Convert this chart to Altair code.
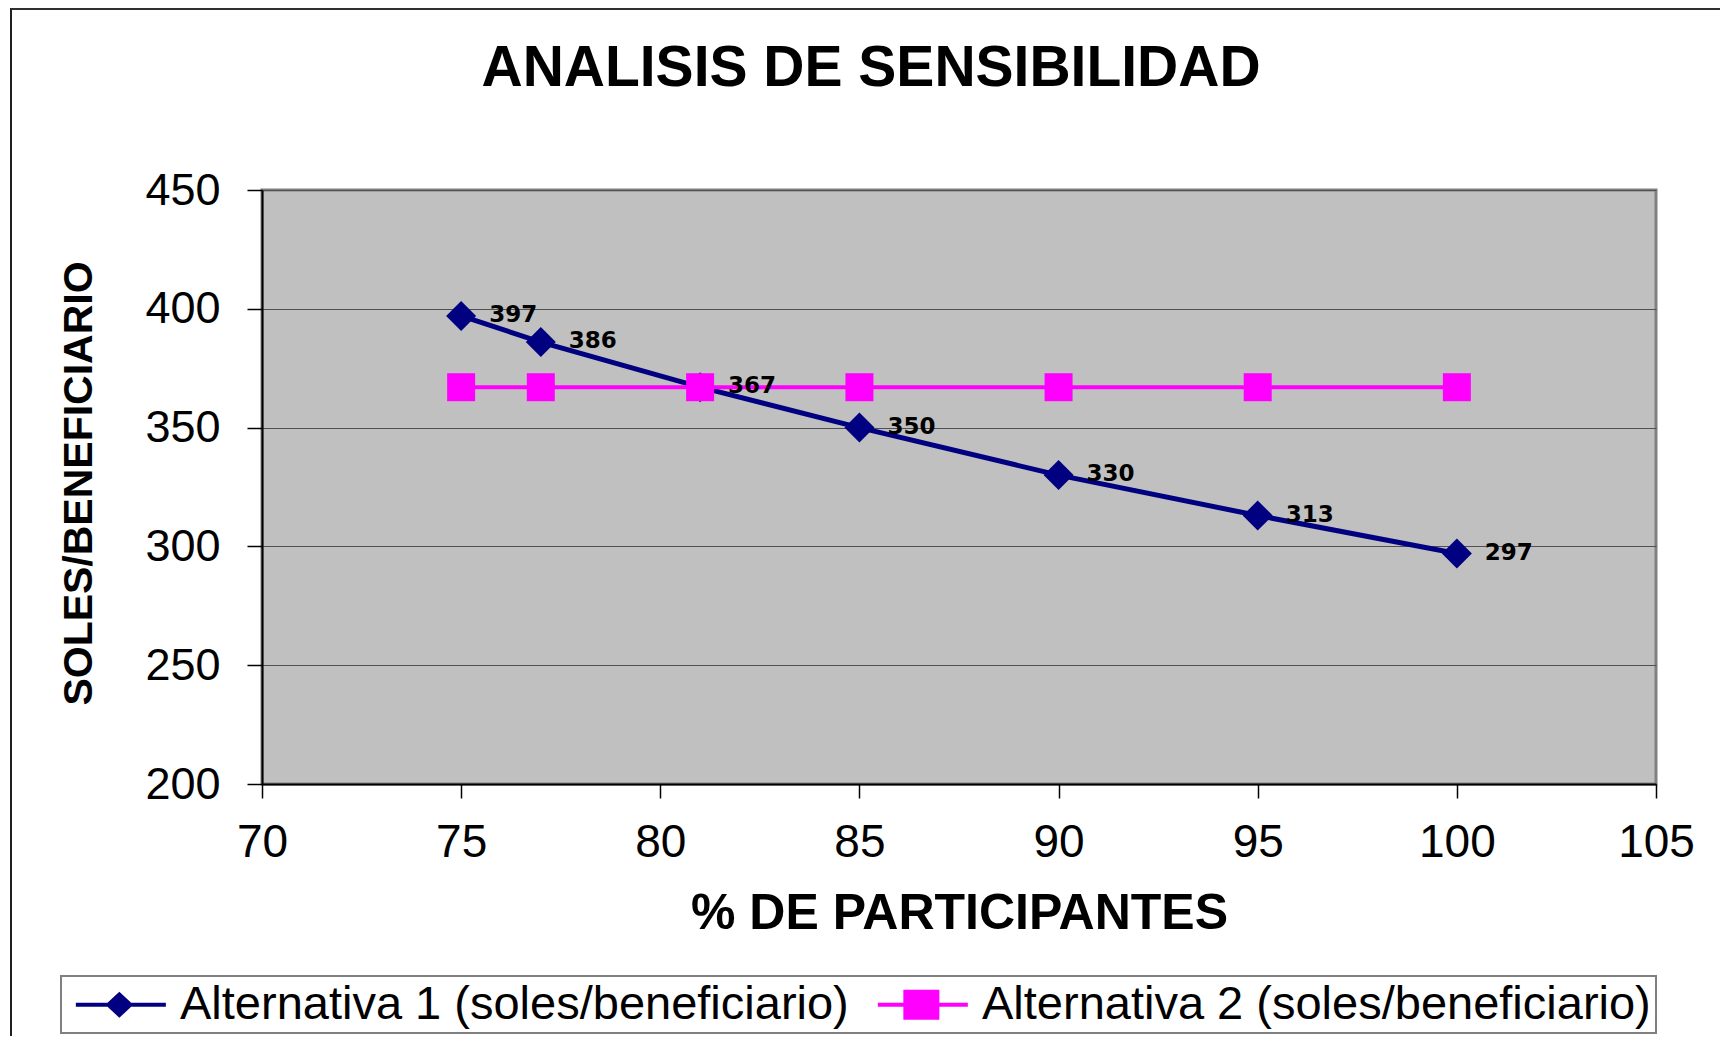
import altair as alt
import pandas as pd

# ---- data ----
x_vals = [75, 77, 81, 85, 90, 95, 100]
alt1_vals = [397, 386, 367, 350, 330, 313, 297]
alt2_vals = [367, 367, 367, 367, 367, 367, 367]
series_names = ["Alternativa 1 (soles/beneficiario)", "Alternativa 2 (soles/beneficiario)"]
series_colors = ["#000080", "#FF00FF"]
x_ticks = [70, 75, 80, 85, 90, 95, 100, 105]
y_ticks = [200, 250, 300, 350, 400, 450]

rows = []
for x, v in zip(x_vals, alt1_vals):
    rows.append({"pct": x, "val": v, "serie": series_names[0], "label": str(v)})
for x, v in zip(x_vals, alt2_vals):
    rows.append({"pct": x, "val": v, "serie": series_names[1], "label": ""})
df = pd.DataFrame(rows)

FONT = "Liberation Sans"

x_enc = alt.X(
    "pct:Q",
    scale=alt.Scale(domain=[70, 105], nice=False, zero=False),
    axis=alt.Axis(
        values=x_ticks, grid=False, title="% DE PARTICIPANTES",
        labelFont=FONT, labelFontSize=46, labelColor="black", labelPadding=22,
        labelFlush=False, labelOverlap=False,
        tickSize=14, tickColor="black", tickWidth=1.5,
        domainColor="black", domainWidth=2,
        titleFont=FONT, titleFontSize=50, titleFontWeight="bold", titleColor="black",
        titleY=144, titleBaseline="alphabetic",
    ),
)
y_enc = alt.Y(
    "val:Q",
    scale=alt.Scale(domain=[200, 450], nice=False, zero=False),
    axis=alt.Axis(
        values=y_ticks, grid=True, gridColor="#505050", gridWidth=1,
        title="SOLES/BENEFICIARIO",
        labelFont=FONT, labelFontSize=45, labelColor="black", labelPadding=27,
        labelFlush=False, labelOverlap=False,
        tickSize=15, tickColor="black", tickWidth=1.5,
        domainColor="black", domainWidth=2,
        titleFont=FONT, titleFontSize=41, titleFontWeight="bold", titleColor="black",
        titleX=-183, titleY=293, titleAngle=270, titleAlign="center", titleBaseline="middle",
    ),
)
color_scale = alt.Scale(domain=series_names, range=series_colors)

base = alt.Chart(df)
s1 = base.transform_filter(alt.datum.serie == series_names[0])
s2 = base.transform_filter(alt.datum.serie == series_names[1])

line1 = s1.mark_line(strokeWidth=5, color=series_colors[0]).encode(x=x_enc, y=y_enc)
pts1 = s1.mark_point(shape="diamond", filled=True, size=900, opacity=1,
                     color=series_colors[0]).encode(x=x_enc, y=y_enc)
line2 = s2.mark_line(strokeWidth=4, color=series_colors[1]).encode(x=x_enc, y=y_enc)
pts2 = s2.mark_point(shape="square", filled=True, size=784, opacity=1,
                     color=series_colors[1]).encode(x=x_enc, y=y_enc)
labels = s1.mark_text(
    align="left", baseline="middle", dx=28, dy=-1,
    font="DejaVu Sans", fontSize=23, fontWeight="bold", color="black",
).encode(x=x_enc, y=y_enc, text="label:N")

# legend symbols: line with a marker on it
sym1 = "M-0.91,-0.133H5.09V0.133H-0.91Z M1.99,-0.867L2.923,0L1.99,0.867L1.057,0Z"
sym2 = "M-0.91,-0.133H5.09V0.133H-0.91Z M0.79,-1H3.19V1H0.79Z"
leg = alt.Legend(
    title=None, orient="none", legendX=-201, legendY=786, direction="horizontal",
    symbolSize=900, symbolStrokeWidth=0, symbolOpacity=1,
    labelFont=FONT, labelFontSize=47, labelColor="black", labelOffset=67,
    labelLimit=2000, columnPadding=19, padding=5,
    strokeColor="#808080", fillColor="white",
)
legend_layer = base.transform_filter("false").mark_point(filled=True, size=900, opacity=1).encode(
    x=x_enc, y=y_enc,
    color=alt.Color("serie:N", scale=color_scale, legend=leg),
    shape=alt.Shape("serie:N", scale=alt.Scale(domain=series_names, range=[sym1, sym2]), legend=leg),
)

frame_df = pd.DataFrame({"k": [0]})
frame_left = alt.Chart(frame_df).mark_rule(color="#202020", strokeWidth=2).encode(
    x=alt.value(-251), y=alt.value(-182), y2=alt.value(846))
frame_top = alt.Chart(frame_df).mark_rule(color="#303030", strokeWidth=2).encode(
    x=alt.value(-251), x2=alt.value(1460), y=alt.value(-181))

chart = alt.layer(
    frame_left, frame_top, line1, pts1, line2, pts2, labels, legend_layer
).properties(
    width=1394, height=594,
    padding={"left": 254, "top": 182, "right": 64, "bottom": 252},
    autosize=alt.AutoSizeParams(type="none"),
    title=alt.TitleParams(
        text="ANALISIS DE SENSIBILIDAD", font=FONT, fontSize=57, fontWeight="bold",
        color="black", anchor="middle", frame="group", baseline="alphabetic",
        dx=-88, dy=136, offset=0,
    ),
    background="white",
).configure_view(
    fill="#C0C0C0", stroke="#808080", strokeWidth=3
).configure_legend(
    strokeWidth=2
)

chart.save("out.html", embed_options={"renderer": "svg", "actions": False})
